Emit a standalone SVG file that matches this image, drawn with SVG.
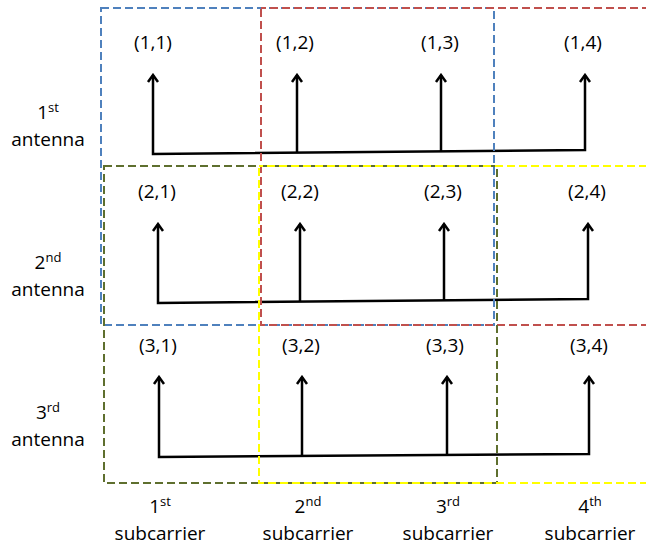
<svg xmlns="http://www.w3.org/2000/svg" width="646" height="547" viewBox="0 0 646 547">
<style>
  .lbl { font-family: "Open Sans", "Liberation Sans", sans-serif; font-size: 19px; fill: #000; text-anchor: middle; }
  .sup { font-size: 13px; }
  .sig { fill: none; stroke: #000; stroke-width: 2.5; stroke-linejoin: miter; }
  .box { fill: none; stroke-width: 2; stroke-dasharray: 8 4; }
  .blue { stroke: #4F81BD; }
  .red { stroke: #C0504D; }
  .olive { stroke: #5E6F2E; }
  .yellow { stroke: #FFFF00; }
</style>
<defs>
  <marker id="ah" viewBox="-9 -7 11 14" refX="0" refY="0" markerWidth="11" markerHeight="14" markerUnits="userSpaceOnUse" orient="auto-start-reverse">
    <path d="M-7,-5 L0,0 L-7,5" fill="none" stroke="#000" stroke-width="2.5"/>
  </marker>
</defs>
<rect width="646" height="547" fill="#fff"/>

<g id="connectors">
  <g id="row1-signal">
    <polyline class="sig" points="153,75 153,154 585,150 585,75" marker-start="url(#ah)" marker-end="url(#ah)"/>
    <line class="sig" x1="297" y1="152.7" x2="297" y2="75" marker-end="url(#ah)"/>
    <line class="sig" x1="441" y1="151.3" x2="441" y2="75" marker-end="url(#ah)"/>
  </g>
  <g id="row2-signal">
    <polyline class="sig" points="158,224 158,303 588,299 588,224" marker-start="url(#ah)" marker-end="url(#ah)"/>
    <line class="sig" x1="300" y1="301.7" x2="300" y2="224" marker-end="url(#ah)"/>
    <line class="sig" x1="444" y1="300.3" x2="444" y2="224" marker-end="url(#ah)"/>
  </g>
  <g id="row3-signal">
    <polyline class="sig" points="159,377 159,457 589,454 589,377" marker-start="url(#ah)" marker-end="url(#ah)"/>
    <line class="sig" x1="302" y1="456" x2="302" y2="377" marker-end="url(#ah)"/>
    <line class="sig" x1="447" y1="455" x2="447" y2="377" marker-end="url(#ah)"/>
  </g>
</g>

<g id="box-blue"><rect class="box blue" x="101" y="8" width="393" height="317"/></g>
<g id="box-red"><rect class="box red" x="261" y="8" width="400" height="317" stroke-dashoffset="3"/></g>
<g id="box-olive"><rect class="box olive" x="104" y="166" width="393" height="317"/></g>
<g id="box-yellow"><rect class="box yellow" x="259" y="166" width="400" height="317" stroke-dashoffset="4"/></g>

<g id="labels-row1">
  <text class="lbl" x="153" y="49">(1,1)</text>
  <text class="lbl" x="295" y="49">(1,2)</text>
  <text class="lbl" x="440" y="49">(1,3)</text>
  <text class="lbl" x="583" y="49">(1,4)</text>
</g>
<g id="labels-row2">
  <text class="lbl" x="157" y="198">(2,1)</text>
  <text class="lbl" x="300" y="198">(2,2)</text>
  <text class="lbl" x="443" y="198">(2,3)</text>
  <text class="lbl" x="587" y="198">(2,4)</text>
</g>
<g id="labels-row3">
  <text class="lbl" x="158" y="352">(3,1)</text>
  <text class="lbl" x="301" y="352">(3,2)</text>
  <text class="lbl" x="445" y="352">(3,3)</text>
  <text class="lbl" x="589" y="352">(3,4)</text>
</g>

<g id="antenna1">
  <text class="lbl" x="48" y="119">1<tspan class="sup" dy="-7">st</tspan></text>
  <text class="lbl" x="48" y="146">antenna</text>
</g>
<g id="antenna2">
  <text class="lbl" x="48" y="269">2<tspan class="sup" dy="-7">nd</tspan></text>
  <text class="lbl" x="48" y="296">antenna</text>
</g>
<g id="antenna3">
  <text class="lbl" x="48" y="419">3<tspan class="sup" dy="-7">rd</tspan></text>
  <text class="lbl" x="48" y="446">antenna</text>
</g>

<g id="subcarrier1">
  <text class="lbl" x="160" y="513">1<tspan class="sup" dy="-7">st</tspan></text>
  <text class="lbl" x="160" y="540">subcarrier</text>
</g>
<g id="subcarrier2">
  <text class="lbl" x="308" y="513">2<tspan class="sup" dy="-7">nd</tspan></text>
  <text class="lbl" x="308" y="540">subcarrier</text>
</g>
<g id="subcarrier3">
  <text class="lbl" x="448" y="513">3<tspan class="sup" dy="-7">rd</tspan></text>
  <text class="lbl" x="448" y="540">subcarrier</text>
</g>
<g id="subcarrier4">
  <text class="lbl" x="590" y="513">4<tspan class="sup" dy="-7">th</tspan></text>
  <text class="lbl" x="590" y="540">subcarrier</text>
</g>
</svg>
